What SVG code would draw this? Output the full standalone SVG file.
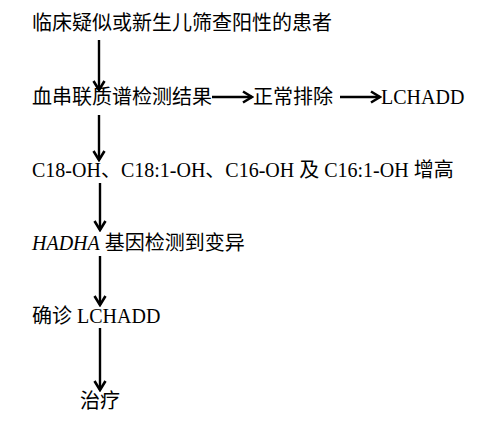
<svg xmlns="http://www.w3.org/2000/svg" width="489" height="431" viewBox="0 0 489 431">
<style>
text{font-family:"Liberation Serif","Noto Sans CJK SC",serif;font-size:20px;fill:#000}
.c{stroke:#000;stroke-width:2.4;fill:none}
</style>
<defs>
<marker id="ah" markerUnits="userSpaceOnUse" viewBox="-12 -8 14 16" markerWidth="14" markerHeight="16" refX="0" refY="0" orient="auto">
<path d="M-9,-5.5 L0,0 L-9,5.5" fill="none" stroke="#000" stroke-width="2.6" stroke-linejoin="miter"/>
</marker>
</defs>
<rect width="489" height="431" fill="#fff"/>
<g id="n1"><text x="32" y="30">临床疑似或新生儿筛查阳性的患者</text></g>
<g id="n2"><text x="32" y="104">血串联质谱检测结果</text></g>
<g id="n3"><text x="253" y="104">正常排除</text></g>
<g id="n4"><text x="381" y="104">LCHADD</text></g>
<g id="n5"><text x="32" y="177">C18-OH、C18:1-OH、C16-OH 及 C16:1-OH 增高</text></g>
<g id="n6"><text x="32" y="250"><tspan font-style="italic">HADHA</tspan> 基因检测到变异</text></g>
<g id="n7"><text x="32" y="323">确诊 LCHADD</text></g>
<g id="n8"><text x="80" y="408">治疗</text></g>
<g id="connectors">
<path class="c" marker-end="url(#ah)" d="M99,40 L99,90"/>
<path class="c" marker-end="url(#ah)" d="M99,115 L99,160"/>
<path class="c" marker-end="url(#ah)" d="M100,183 L100,230"/>
<path class="c" marker-end="url(#ah)" d="M100,256 L100,305"/>
<path class="c" marker-end="url(#ah)" d="M100,328 L100,390"/>
<path class="c" marker-end="url(#ah)" d="M212,97 L252,97"/>
<path class="c" marker-end="url(#ah)" d="M340,97 L380,97"/>
</g>
</svg>
